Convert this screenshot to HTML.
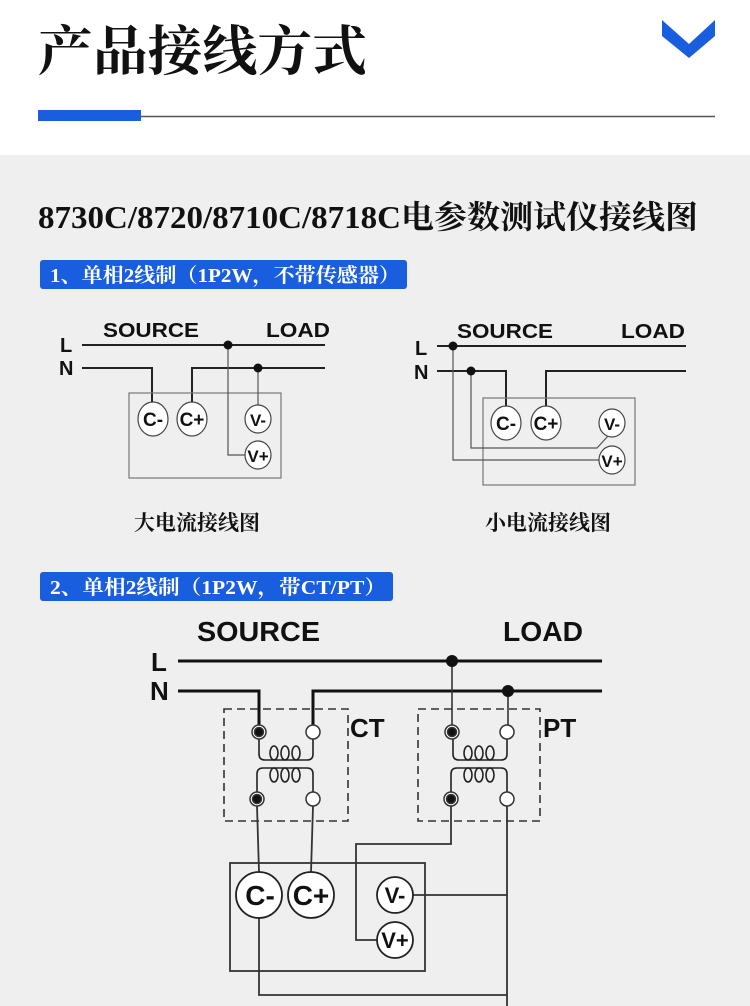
<!DOCTYPE html>
<html><head><meta charset="utf-8"><style>
html,body{margin:0;padding:0;background:#efefef;}
svg{display:block;}
.sf{font-family:"Liberation Serif","Noto Serif CJK SC",serif;}
.ss{font-family:"Liberation Sans",Arial,sans-serif;font-weight:bold;}
</style></head><body>
<svg width="750" height="1006" viewBox="0 0 750 1006" xmlns="http://www.w3.org/2000/svg">
<rect x="0" y="0" width="750" height="155" fill="#ffffff"/>
<rect x="0" y="155" width="750" height="851" fill="#efefef"/>
<text x="38" y="70" class="sf" font-size="54" font-weight="bold" fill="#111" textLength="329" lengthAdjust="spacingAndGlyphs">产品接线方式</text>
<polygon points="662,20 689,44 715,20 715,36 689,58 662,36" fill="#1a5ee0"/>
<line x1="141" y1="116.5" x2="715" y2="116.5" stroke="#555" stroke-width="1.5"/>
<rect x="38" y="110" width="103" height="11" fill="#1a5ee0"/>
<text x="38" y="228" class="sf" font-size="32" font-weight="bold" fill="#111" textLength="660" lengthAdjust="spacingAndGlyphs">8730C/8720/8710C/8718C电参数测试仪接线图</text>
<rect x="40" y="260" width="367" height="29" rx="3" fill="#1a5ee0"/>
<text x="50" y="282" class="sf" font-size="20" font-weight="bold" fill="#fff" textLength="350" lengthAdjust="spacingAndGlyphs">1、单相2线制（1P2W，不带传感器）</text>
<rect x="40" y="572" width="353" height="29" rx="3" fill="#1a5ee0"/>
<text x="50" y="594" class="sf" font-size="20" font-weight="bold" fill="#fff" textLength="336" lengthAdjust="spacingAndGlyphs">2、单相2线制（1P2W，带CT/PT）</text>

<!-- Diagram 1 left -->
<g fill="none" stroke="#222" stroke-width="2">
<line x1="82" y1="345" x2="325" y2="345"/>
<polyline points="82,368 152,368 152,403"/>
<polyline points="192,403 192,368 325,368"/>
</g>
<g fill="none" stroke="#555" stroke-width="1.2">
<rect x="129" y="393" width="152" height="85" stroke="#777"/>
<polyline points="228,345 228,455 245,455"/>
<line x1="258" y1="368" x2="258" y2="406"/>
</g>
<circle cx="228" cy="345" r="4.5" fill="#111"/>
<circle cx="258" cy="368" r="4.5" fill="#111"/>
<g fill="#fff" stroke="#444" stroke-width="1.2">
<ellipse cx="153" cy="419" rx="15" ry="17"/><ellipse cx="192" cy="419" rx="15" ry="17"/>
<ellipse cx="258" cy="419" rx="13" ry="14"/><ellipse cx="258" cy="455" rx="13" ry="14"/>
</g>
<g class="ss" font-size="19" fill="#111" text-anchor="middle">
<text x="153" y="426">C-</text><text x="192" y="426">C+</text>
<text x="258" y="426" font-size="17">V-</text><text x="258" y="462" font-size="17">V+</text>
</g>
<text x="103" y="337" class="ss" font-size="20" fill="#111" textLength="96" lengthAdjust="spacingAndGlyphs">SOURCE</text>
<text x="266" y="337" class="ss" font-size="20" fill="#111" textLength="64" lengthAdjust="spacingAndGlyphs">LOAD</text>
<text x="60" y="352" class="ss" font-size="20" fill="#111">L</text>
<text x="59" y="375" class="ss" font-size="20" fill="#111">N</text>
<text x="197" y="530" class="sf" font-size="21" font-weight="bold" fill="#111" text-anchor="middle">大电流接线图</text>

<!-- Diagram 1 right -->
<g fill="none" stroke="#222" stroke-width="2">
<line x1="437" y1="346" x2="686" y2="346"/>
<polyline points="437,371 506,371 506,407"/>
<polyline points="546,407 546,371 686,371"/>
</g>
<g fill="none" stroke="#555" stroke-width="1.2">
<rect x="483" y="398" width="152" height="87" stroke="#777"/>
<polyline points="453,346 453,460 599,460"/>
<polyline points="471,371 471,448 597,448 608,436"/>
</g>
<circle cx="453" cy="346" r="4.5" fill="#111"/>
<circle cx="471" cy="371" r="4.5" fill="#111"/>
<g fill="#fff" stroke="#444" stroke-width="1.2">
<ellipse cx="506" cy="423" rx="15" ry="17"/><ellipse cx="546" cy="423" rx="15" ry="17"/>
<ellipse cx="612" cy="423" rx="13" ry="14"/><ellipse cx="612" cy="460" rx="13" ry="14"/>
</g>
<g class="ss" font-size="19" fill="#111" text-anchor="middle">
<text x="506" y="430">C-</text><text x="546" y="430">C+</text>
<text x="612" y="430" font-size="17">V-</text><text x="612" y="467" font-size="17">V+</text>
</g>
<text x="457" y="338" class="ss" font-size="20" fill="#111" textLength="96" lengthAdjust="spacingAndGlyphs">SOURCE</text>
<text x="621" y="338" class="ss" font-size="20" fill="#111" textLength="64" lengthAdjust="spacingAndGlyphs">LOAD</text>
<text x="415" y="355" class="ss" font-size="20" fill="#111">L</text>
<text x="414" y="379" class="ss" font-size="20" fill="#111">N</text>
<text x="548" y="530" class="sf" font-size="21" font-weight="bold" fill="#111" text-anchor="middle">小电流接线图</text>

<!-- Diagram 2 -->
<text x="197" y="641" class="ss" font-size="28" fill="#111" textLength="123" lengthAdjust="spacingAndGlyphs">SOURCE</text>
<text x="503" y="641" class="ss" font-size="28" fill="#111" textLength="80" lengthAdjust="spacingAndGlyphs">LOAD</text>
<text x="151" y="671" class="ss" font-size="26" fill="#111">L</text>
<text x="150" y="700" class="ss" font-size="26" fill="#111">N</text>
<text x="350" y="737" class="ss" font-size="26" fill="#111">CT</text>
<text x="543" y="737" class="ss" font-size="26" fill="#111">PT</text>

<g fill="none" stroke="#111" stroke-width="3">
<line x1="178" y1="661" x2="602" y2="661"/>
<polyline points="178,691 259,691 259,725"/>
<polyline points="313,725 313,691 602,691"/>
</g>
<g fill="none" stroke="#333" stroke-width="1.6">
<line x1="452" y1="661" x2="452" y2="725"/>
<line x1="508" y1="691" x2="508" y2="725"/>
<rect x="224" y="709" width="124" height="112" stroke-dasharray="8,5"/>
<rect x="418" y="709" width="122" height="112" stroke-dasharray="8,5"/>
</g>
<g id="xf" fill="none" stroke="#222" stroke-width="1.6">
<path d="M259,739 V754 Q259,760 265,760 H307 Q313,760 313,754 V739"/>
<ellipse cx="274" cy="753" rx="4" ry="7"/><ellipse cx="285" cy="753" rx="4" ry="7"/><ellipse cx="296" cy="753" rx="4" ry="7"/>
<path d="M257,792 V774 Q257,768 263,768 H307 Q313,768 313,774 V792"/>
<ellipse cx="274" cy="775" rx="4" ry="7"/><ellipse cx="285" cy="775" rx="4" ry="7"/><ellipse cx="296" cy="775" rx="4" ry="7"/>
</g>
<use href="#xf" transform="translate(194,0)"/>
<g stroke="#333" stroke-width="1.5">
<circle cx="259" cy="732" r="7" fill="#fff"/><circle cx="259" cy="732" r="4.5" fill="#111"/>
<circle cx="313" cy="732" r="7" fill="#fff"/>
<circle cx="257" cy="799" r="7" fill="#fff"/><circle cx="257" cy="799" r="4.5" fill="#111"/>
<circle cx="313" cy="799" r="7" fill="#fff"/>
<circle cx="452" cy="732" r="7" fill="#fff"/><circle cx="452" cy="732" r="4.5" fill="#111"/>
<circle cx="507" cy="732" r="7" fill="#fff"/>
<circle cx="451" cy="799" r="7" fill="#fff"/><circle cx="451" cy="799" r="4.5" fill="#111"/>
<circle cx="507" cy="799" r="7" fill="#fff"/>
</g>
<circle cx="452" cy="661" r="6" fill="#111"/>
<circle cx="508" cy="691" r="6" fill="#111"/>
<g fill="none" stroke="#333" stroke-width="1.8">
<rect x="230" y="863" width="195" height="108"/>
<line x1="257" y1="806" x2="259" y2="872"/>
<line x1="313" y1="806" x2="311" y2="872"/>
<polyline points="451,806 451,844 356,844 356,940 377,940"/>
<line x1="507" y1="806" x2="507" y2="1006"/>
<line x1="413" y1="895" x2="507" y2="895"/>
<polyline points="259,918 259,995 507,995"/>
</g>
<g fill="#fff" stroke="#222" stroke-width="1.8">
<circle cx="259" cy="895" r="23"/><circle cx="311" cy="895" r="23"/>
<circle cx="395" cy="895" r="18"/><circle cx="395" cy="940" r="18"/>
</g>
<g class="ss" fill="#111" text-anchor="middle">
<text x="260" y="905" font-size="28">C-</text><text x="311" y="905" font-size="28">C+</text>
<text x="395" y="903" font-size="22">V-</text><text x="395" y="948" font-size="22">V+</text>
</g>
</svg>
</body></html>
